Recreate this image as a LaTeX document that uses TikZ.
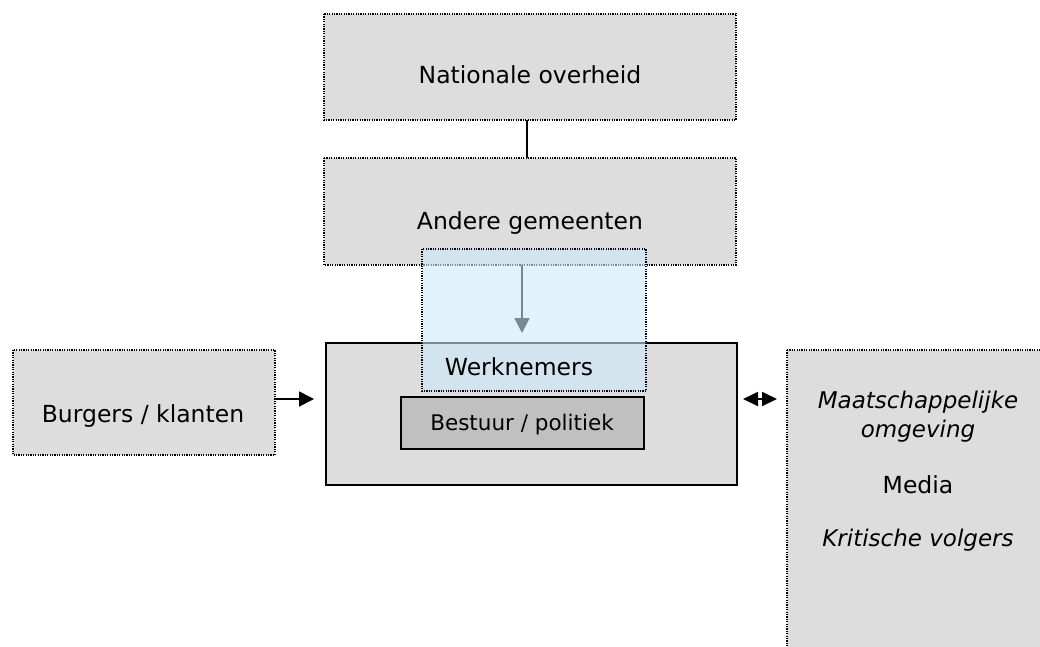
\documentclass[tikz,border=0pt]{standalone}
\usepackage{fontspec}
\setmainfont{DejaVu Sans}
\usetikzlibrary{arrows.meta}
\definecolor{boxgrey}{HTML}{DDDDDD}
\definecolor{darkgrey}{HTML}{C0C0C0}
\definecolor{paleblue}{RGB}{204,233,252}
\tikzset{
  dotbox/.style={draw=black, line width=1.3pt, dash pattern=on 1.2pt off 1.2pt, fill=boxgrey},
  lbl/.style={anchor=base, inner sep=0pt, font=\fontsize{23.5}{28}\selectfont},
  ilbl/.style={anchor=base, inner sep=0pt, font=\fontsize{23}{28}\selectfont\itshape},
  arr/.style={line width=1.8pt, -{Triangle[length=15pt,width=15pt]}},
}
\begin{document}
\begin{tikzpicture}[x=1pt,y=-1pt]
\useasboundingbox (0,0) rectangle (1040,646);
% boxes
\draw[dotbox] (324,14) rectangle (736,120);
\coordinate (natS) at (527,120);
\draw[dotbox] (324,158) rectangle (736,265);
\coordinate (andN) at (527,158);
\coordinate (andS) at (522,265);
\draw[dotbox] (13,350) rectangle (275,455);
\coordinate (burE) at (276,399);
\draw[dotbox] (787,350) rectangle (1060,680);
\coordinate (maaW) at (777,399);
\draw[line width=2.2pt, fill=boxgrey] (326,343) rectangle (737,485);
\coordinate (mainW) at (314,399);
\coordinate (mainE) at (743,399);
\coordinate (mainN) at (522,333);
\draw[line width=1.8pt, fill=darkgrey] (401,397) rectangle (644,449);
% connectors
\draw[line width=1.5pt] (natS) -- (andN);
\draw[arr] (andS) -- (mainN);
\draw[arr] (burE) -- (mainW);
\draw[line width=1.8pt, {Triangle[length=15pt,width=14pt]}-{Triangle[length=15pt,width=14pt]}] (mainE) -- (maaW);
% translucent employee box
\draw[draw=black, line width=1.3pt, dash pattern=on 1.2pt off 1.2pt, fill=paleblue, fill opacity=0.59] (422,249) rectangle (646,391);
% labels
\node[lbl] (nat) at (530,83) {Nationale overheid};
\node[lbl] (and) at (530,229) {Andere gemeenten};
\node[lbl] (wer) at (519,375) {Werknemers};
\node[anchor=base, inner sep=0pt, font=\fontsize{21.5}{26}\selectfont] (bes) at (522,430) {Bestuur / politiek};
\node[lbl] (bur) at (143,422) {Burgers / klanten};
\node[ilbl] (maa) at (918,408) {Maatschappelijke};
\node[ilbl] (omg) at (918,437) {omgeving};
\node[lbl] (med) at (918,493) {Media};
\node[ilbl] (kri) at (918,546) {Kritische volgers};
\end{tikzpicture}
\end{document}
